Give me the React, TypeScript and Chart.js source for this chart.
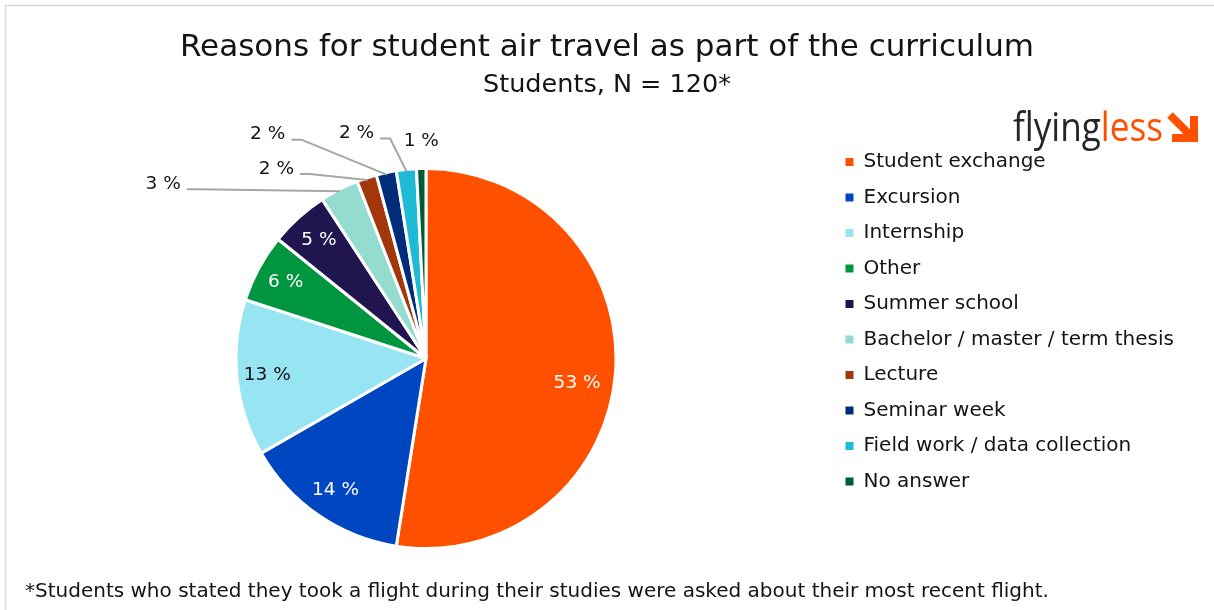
import React, { useEffect, useRef } from "react";
import { Chart, registerables } from "chart.js";

Chart.register(...registerables);

// ---------- data ----------
const categories = [
  "Student exchange",
  "Excursion",
  "Internship",
  "Other",
  "Summer school",
  "Bachelor / master / term thesis",
  "Lecture",
  "Seminar week",
  "Field work / data collection",
  "No answer",
];
const shares = [52.5, 14.2, 13.3, 5.8, 5.0, 3.3, 1.7, 1.7, 1.7, 0.8];
const colors = [
  "#FF5000",
  "#0046C1",
  "#97E4F2",
  "#009640",
  "#21154F",
  "#93DCCF",
  "#A3360A",
  "#002D7A",
  "#1EBAD6",
  "#005C32",
];
const titleText = "Reasons for student air travel as part of the curriculum";
const subtitleText = "Students, N = 120*";
const footnoteText =
  "*Students who stated they took a flight during their studies were asked about their most recent flight.";
const logoDark = "flying";
const logoOrange = "less";

// ---------- layout / style ----------
const FONT = "'DejaVu Sans', sans-serif";
const TEXT = "#141414";
const W = 1214;
const H = 610;
const PIE_CX = 426;
const PIE_CY = 358.5;
const PIE_R = 190;
const INSIDE_R = 0.84;
const insideColors: Record<number, string> = { 0: "#ffffff", 1: "#ffffff", 2: "#111111", 3: "#ffffff", 4: "#ffffff" };
const insideNudge: Record<number, [number, number]> = { 0: [-8, 12] };
// offset of label centre from the slice's outer edge point, and whether it has a leader line
const outsidePlacement: Record<number, [number, number, boolean]> = {
  5: [-177, -7, true],
  6: [-91, -11, true],
  7: [-119, -40, true],
  8: [-50, -38, true],
  9: [0, -29, false],
};

const placement = {
  id: "placement",
  afterLayout(chart: any) {
    const half = PIE_R + 10;
    chart.chartArea = {
      left: PIE_CX - half,
      top: PIE_CY - half,
      right: PIE_CX + half,
      bottom: PIE_CY + half,
      width: half * 2,
      height: half * 2,
    };
    const lg = chart.legend;
    if (lg) {
      const w = lg.width;
      lg.left = 830;
      lg.right = 830 + w;
      lg.top = 136.5;
      lg.bottom = 600;
      lg.height = 600 - 136.5;
    }
  },
};

const decor = {
  id: "decor",
  beforeDraw(chart: any) {
    const ctx = chart.ctx;
    ctx.save();
    ctx.fillStyle = "#ffffff";
    ctx.fillRect(0, 0, W, H);
    ctx.strokeStyle = "#D9D9D9";
    ctx.lineWidth = 1.5;
    ctx.strokeRect(5.5, 5.5, W + 10, H - 3);
    ctx.restore();
  },
  afterDraw(chart: any) {
    const ctx = chart.ctx;
    ctx.save();
    // footnote
    ctx.fillStyle = TEXT;
    ctx.font = `20px ${FONT}`;
    ctx.textAlign = "left";
    ctx.textBaseline = "alphabetic";
    ctx.fillText(footnoteText, 25, 597);
    // logo
    ctx.font = `40px 'Open Sans', sans-serif`;
    const w1 = ctx.measureText(logoDark).width;
    const w2 = ctx.measureText(logoOrange).width;
    const s = 150 / (w1 + w2);
    ctx.save();
    ctx.translate(1013, 141);
    ctx.scale(s, 1);
    ctx.fillStyle = "#262626";
    ctx.fillText(logoDark, 0, 0);
    ctx.fillStyle = "#FF5000";
    ctx.fillText(logoOrange, w1, 0);
    ctx.restore();
    // logo arrow
    ctx.strokeStyle = "#FF5000";
    ctx.fillStyle = "#FF5000";
    ctx.lineWidth = 8;
    ctx.beginPath();
    ctx.moveTo(1170, 115);
    ctx.lineTo(1191, 136);
    ctx.stroke();
    ctx.beginPath();
    ctx.moveTo(1190, 116);
    ctx.lineTo(1198, 116);
    ctx.lineTo(1198, 142);
    ctx.lineTo(1172, 142);
    ctx.lineTo(1172, 134);
    ctx.lineTo(1190, 134);
    ctx.closePath();
    ctx.fill();
    ctx.restore();
  },
};

const pieLabels = {
  id: "pieLabels",
  afterDatasetsDraw(chart: any) {
    const ctx = chart.ctx;
    const meta = chart.getDatasetMeta(0);
    const data = chart.data.datasets[0].data as number[];
    ctx.save();
    ctx.font = `18.5px ${FONT}`;
    ctx.textAlign = "center";
    ctx.textBaseline = "middle";
    ctx.strokeStyle = "#A6A6A6";
    ctx.lineWidth = 2;
    meta.data.forEach((arc: any, i: number) => {
      const { x, y, startAngle, endAngle, outerRadius } = arc.getProps(
        ["x", "y", "startAngle", "endAngle", "outerRadius"],
        true
      );
      const mid = (startAngle + endAngle) / 2;
      const txt = Math.round(data[i]) + " %";
      if (insideColors[i] !== undefined) {
        const r = outerRadius * INSIDE_R;
        const nudge = insideNudge[i] || [0, 0];
        const px = x + Math.cos(mid) * r + nudge[0];
        const py = y + Math.sin(mid) * r + nudge[1];
        ctx.fillStyle = insideColors[i];
        ctx.fillText(txt, px, py);
      } else if (outsidePlacement[i]) {
        const ex = x + Math.cos(mid) * (outerRadius - 2);
        const ey = y + Math.sin(mid) * (outerRadius - 2);
        const [dx, dy, line] = outsidePlacement[i];
        const lx = ex + dx;
        const ly = ey + dy;
        ctx.fillStyle = TEXT;
        ctx.fillText(txt, lx, ly);
        if (line) {
          const w = ctx.measureText(txt).width;
          const sx = lx + w / 2 + 6;
          const sy = ly + 5;
          ctx.beginPath();
          ctx.moveTo(sx, sy);
          ctx.lineTo(sx + 10, sy);
          ctx.lineTo(ex, ey);
          ctx.stroke();
        }
      }
    });
    ctx.restore();
  },
};

export default function App() {
  const ref = useRef<HTMLCanvasElement | null>(null);
  useEffect(() => {
    if (!ref.current) return;
    const chart = new Chart(ref.current, {
      type: "pie",
      data: {
        labels: categories,
        datasets: [
          {
            data: shares,
            backgroundColor: colors,
            borderColor: "#ffffff",
            borderWidth: 3,
            clip: false,
          } as any,
        ],
      },
      options: {
        responsive: false,
        maintainAspectRatio: false,
        animation: false,
        events: [],
        radius: PIE_R,
        layout: { padding: 0 },
        plugins: {
          title: {
            display: true,
            text: titleText,
            color: TEXT,
            font: { size: 31, family: FONT, weight: "normal" },
            padding: { top: 29, bottom: 0 },
          },
          subtitle: {
            display: true,
            text: subtitleText,
            color: TEXT,
            font: { size: 25.5, family: FONT, weight: "normal" },
            padding: { top: 4, bottom: 10 },
          },
          legend: {
            display: true,
            position: "right",
            align: "start",
            labels: {
              boxWidth: 8,
              boxHeight: 8,
              padding: 15.5,
              color: TEXT,
              font: { size: 20, family: FONT },
              generateLabels: (c: any) =>
                c.data.labels.map((l: string, i: number) => ({
                  text: l,
                  fillStyle: colors[i],
                  strokeStyle: colors[i],
                  lineWidth: 0,
                  hidden: false,
                  index: i,
                  fontColor: TEXT,
                })),
            },
          },
          tooltip: { enabled: false },
        },
      } as any,
      plugins: [placement, decor, pieLabels],
    });
    return () => chart.destroy();
  }, []);
  return (
    <div style={{ position: "fixed", left: 0, top: 0, width: W, height: H, background: "#fff" }}>
      <canvas ref={ref} width={W} height={H} style={{ display: "block", width: W, height: H }} />
    </div>
  );
}
